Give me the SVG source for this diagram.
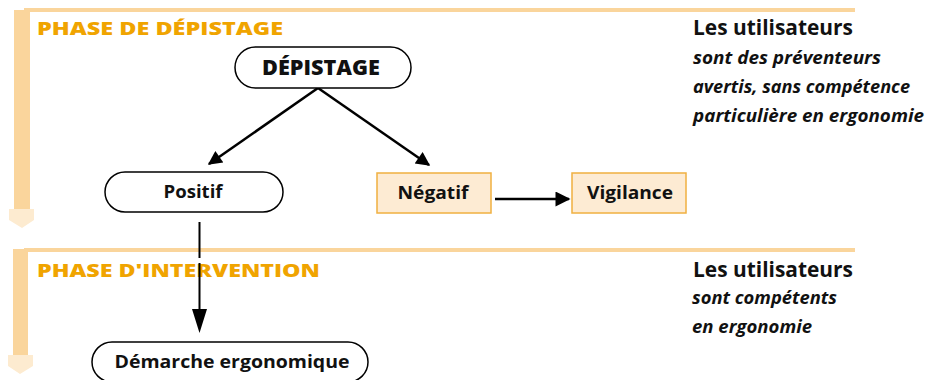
<svg xmlns="http://www.w3.org/2000/svg" width="926" height="380" viewBox="0 0 926 380">
<defs>
<style>
.band{fill:#FAD59C}
.chev{fill:#FDEBD0}
.phase{font-family:"Open Sans",Lato,sans-serif;font-weight:800;font-size:18px;fill:#F0A400}
.pill{fill:#fff;stroke:#000;stroke-width:1.5}
.box{fill:#FDEBD3;stroke:#F0B040;stroke-width:1.5}
.lbl{font-family:"Open Sans",Lato,sans-serif;font-weight:700;font-size:18px;fill:#111;text-anchor:middle}
.big{font-family:"Open Sans",Lato,sans-serif;font-weight:700;font-size:21px;fill:#111}
.it{font-family:"Open Sans",Lato,sans-serif;font-weight:700;font-style:italic;font-size:17px;fill:#111}
.con{stroke:#000;stroke-width:2.5;fill:none}
</style>
<marker id="ah" viewBox="0 0 10 10" refX="9" refY="5" markerWidth="17" markerHeight="14" markerUnits="userSpaceOnUse" orient="auto">
<path d="M0,0 L10,5 L0,10 z" fill="#000"/>
</marker>
<marker id="ahb" viewBox="0 0 10 10" refX="9" refY="5" markerWidth="20" markerHeight="15" markerUnits="userSpaceOnUse" orient="auto">
<path d="M0,0 L10,5 L0,10 z" fill="#000"/>
</marker>
</defs>
<g id="phase1">
<rect class="band" x="24" y="8" width="831" height="4"/>
<rect class="band" x="14" y="10" width="16" height="199"/>
<path class="chev" d="M9,209 L34,209 L34,220 L22,228 L9,220 z"/>
<text class="phase" x="37" y="35" textLength="246" lengthAdjust="spacingAndGlyphs">PHASE DE DÉPISTAGE</text>
<text class="big" x="693" y="35" textLength="160" lengthAdjust="spacingAndGlyphs">Les utilisateurs</text>
<text class="it" x="693" y="64" textLength="188" lengthAdjust="spacingAndGlyphs">sont des préventeurs</text>
<text class="it" x="693" y="93" textLength="217" lengthAdjust="spacingAndGlyphs">avertis, sans compétence</text>
<text class="it" x="693" y="122" textLength="231" lengthAdjust="spacingAndGlyphs">particulière en ergonomie</text>
</g>
<g id="phase2">
<rect class="band" x="24" y="248" width="831" height="4"/>
<rect class="band" x="13" y="249" width="15" height="106"/>
<path class="chev" d="M8,355 L33,355 L33,366 L20,374 L8,366 z"/>
<text class="phase" x="37" y="277" textLength="283" lengthAdjust="spacingAndGlyphs">PHASE D'INTERVENTION</text>
<text class="big" x="693" y="277" textLength="160" lengthAdjust="spacingAndGlyphs">Les utilisateurs</text>
<text class="it" x="692" y="304" textLength="145" lengthAdjust="spacingAndGlyphs">sont compétents</text>
<text class="it" x="692" y="333" textLength="120" lengthAdjust="spacingAndGlyphs">en ergonomie</text>
</g>
<g id="connectors">
<line class="con" x1="318" y1="88" x2="209" y2="164" marker-end="url(#ah)"/>
<line class="con" x1="318" y1="88" x2="429" y2="165" marker-end="url(#ah)"/>
<line class="con" x1="495" y1="199" x2="569" y2="199" marker-end="url(#ahb)"/>
<line class="con" x1="199.5" y1="222" x2="199.5" y2="312" stroke-dasharray="36,5,60" style="stroke-width:2"/>
<path d="M192,309 L207,309 L199.5,333 z" fill="#000"/>
</g>
<g id="depistage">
<rect class="pill" x="235" y="47" width="176" height="41" rx="20.5"/>
<text class="lbl" x="321" y="75" textLength="118" lengthAdjust="spacingAndGlyphs" style="font-size:21px;font-weight:800">DÉPISTAGE</text>
</g>
<g id="positif">
<rect class="pill" x="105" y="172" width="178" height="40" rx="20"/>
<text class="lbl" x="193" y="198" textLength="59" lengthAdjust="spacingAndGlyphs">Positif</text>
</g>
<g id="negatif">
<rect class="box" x="377" y="173" width="114" height="40"/>
<text class="lbl" x="433" y="199" textLength="71" lengthAdjust="spacingAndGlyphs">Négatif</text>
</g>
<g id="vigilance">
<rect class="box" x="572" y="173" width="114" height="40"/>
<text class="lbl" x="630" y="199" textLength="86" lengthAdjust="spacingAndGlyphs">Vigilance</text>
</g>
<g id="demarche">
<rect class="pill" x="92" y="342" width="276" height="40" rx="20"/>
<text class="lbl" x="232" y="368" textLength="235" lengthAdjust="spacingAndGlyphs">Démarche ergonomique</text>
</g>
</svg>
